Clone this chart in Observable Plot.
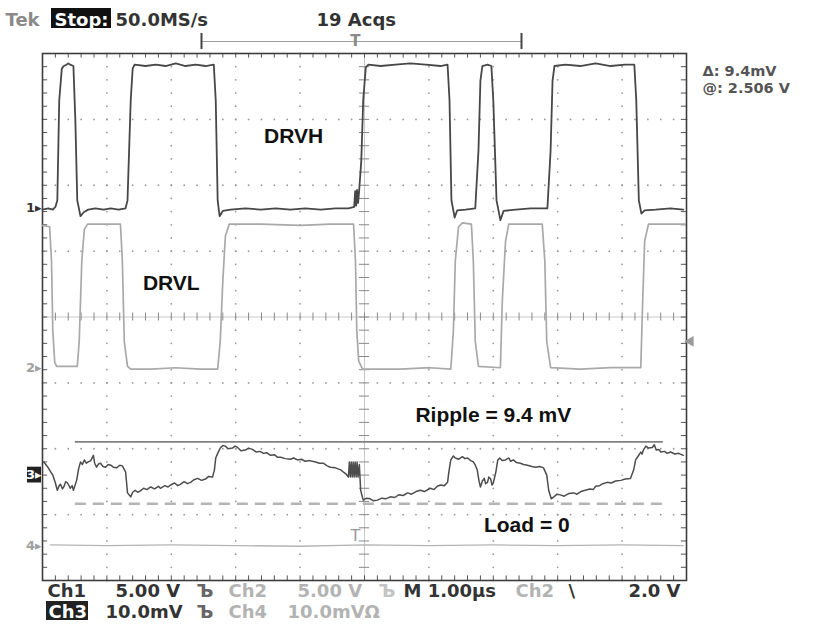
<!DOCTYPE html>
<html><head><meta charset="utf-8">
<script src="https://cdn.jsdelivr.net/npm/d3@7"></script>
<script src="https://cdn.jsdelivr.net/npm/@observablehq/plot@0.6"></script>
<style>
html,body{margin:0;padding:0;background:#fff;}
#chart svg{display:block;}
</style></head>
<body><div id="chart"></div>
<script>
// ---- DATA (time in µs from left edge of screen, value in channel units) ----
const drvh = [[0,-0.1],[0.09,0],[0.16,-0.1],[0.2,0.1],[0.23,0.6],[0.26,8.2],[0.3,10.6],[0.33,10.8],[0.37,10.9],[0.4,11.0],[0.43,10.9],[0.48,10.8],[0.51,6.7],[0.54,0.6],[0.59,-0.6],[0.64,-0.3],[0.71,-0.1],[0.82,0],[0.95,-0.1],[1.06,0],[1.18,-0.1],[1.29,0],[1.32,0.6],[1.37,8.2],[1.4,10.6],[1.43,10.9],[1.6,10.8],[1.76,10.9],[1.91,10.8],[2.07,11.0],[2.22,10.8],[2.38,10.9],[2.53,10.8],[2.66,10.9],[2.69,8.2],[2.72,0.6],[2.75,-0.6],[2.8,-0.2],[2.92,-0.1],[3.15,0],[3.39,-0.1],[3.62,0],[3.85,-0.1],[4.08,0],[4.32,-0.1],[4.55,0],[4.75,0],[4.84,0.1],[4.855,1.3],[4.87,0.2],[4.885,1.4],[4.9,0.4],[4.915,1.2],[4.95,3.6],[4.98,8.2],[5.02,10.7],[5.06,10.9],[5.25,10.8],[5.48,10.9],[5.71,11.0],[5.95,10.9],[6.18,10.8],[6.29,10.9],[6.32,8.2],[6.35,0.6],[6.4,-0.7],[6.44,-0.15],[6.57,-0.1],[6.72,0],[6.77,4.4],[6.8,9.7],[6.83,10.8],[6.91,10.9],[6.97,10.8],[7.0,8.2],[7.05,0.6],[7.11,-0.9],[7.16,-0.2],[7.35,-0.1],[7.58,0],[7.84,0],[7.89,4.4],[7.92,9.7],[7.95,10.8],[8.12,10.9],[8.35,10.8],[8.59,11.0],[8.82,10.8],[9.05,10.9],[9.19,10.9],[9.22,8.2],[9.26,0.6],[9.3,-0.4],[9.35,-0.15],[9.52,-0.1],[9.75,0],[9.95,-0.1]];
const drvl = [[0,10.8],[0.11,10.7],[0.14,8.1],[0.16,2.8],[0.19,0.4],[0.22,0.1],[0.36,0.1],[0.54,0.1],[0.57,2.0],[0.61,8.1],[0.65,10.5],[0.7,10.9],[0.9,10.9],[1.21,10.9],[1.24,8.1],[1.27,2.0],[1.32,0.1],[1.37,-0.1],[1.68,-0.1],[2.07,0],[2.45,-0.1],[2.72,-0.1],[2.76,2.0],[2.8,6.6],[2.84,10.0],[2.9,10.9],[3.39,10.9],[4.01,10.8],[4.47,10.9],[4.83,10.9],[4.86,8.1],[4.88,2.8],[4.91,0.5],[4.97,-0.1],[5.56,-0.1],[6.02,0],[6.34,-0.1],[6.38,2.8],[6.41,8.1],[6.46,10.7],[6.52,11.0],[6.66,10.9],[6.69,8.1],[6.72,2.0],[6.77,0.1],[7.11,0],[7.14,5.1],[7.19,9.6],[7.24,10.9],[7.5,10.9],[7.76,10.9],[7.8,8.1],[7.83,2.0],[7.89,0],[8.35,-0.1],[8.82,0],[9.29,0],[9.32,5.1],[9.35,9.6],[9.41,10.9],[9.98,10.9]];
const ripple = [[0.02,2.0],[0.06,1.5],[0.09,1.1],[0.12,0.6],[0.16,0],[0.2,-1.2],[0.23,-2.3],[0.26,-1.6],[0.28,-1.4],[0.31,-2.1],[0.33,-1.8],[0.36,-1.0],[0.39,-1.2],[0.43,-2.0],[0.46,-1.6],[0.48,-2.3],[0.53,-0.8],[0.56,0.9],[0.59,2.0],[0.62,1.6],[0.65,2.3],[0.68,1.8],[0.71,2.0],[0.75,2.2],[0.79,3.0],[0.81,1.8],[0.84,1.2],[0.87,1.7],[0.9,1.8],[0.94,1.3],[0.98,1.2],[1.02,1.6],[1.06,1.5],[1.1,1.2],[1.15,1.1],[1.2,1.5],[1.24,1.4],[1.29,0.5],[1.32,-2.7],[1.37,-3.3],[1.4,-2.6],[1.44,-2.3],[1.48,-2.6],[1.52,-2.4],[1.57,-2.0],[1.62,-2.2],[1.68,-1.8],[1.74,-2.1],[1.8,-1.7],[1.83,-2.0],[1.9,-1.6],[1.95,-1.8],[1.99,-1.5],[2.05,-1.2],[2.1,-1.6],[2.14,-1.4],[2.2,-1.0],[2.25,-1.3],[2.3,-1.1],[2.35,-0.7],[2.41,-0.5],[2.47,-0.8],[2.53,-0.6],[2.58,-0.2],[2.64,-0.3],[2.67,0.8],[2.69,2.6],[2.72,3.3],[2.76,4.1],[2.8,4.5],[2.84,4.4],[2.88,4.0],[2.95,4.1],[2.99,4.4],[3.03,4.2],[3.08,3.7],[3.15,3.8],[3.2,4.1],[3.26,3.9],[3.32,3.5],[3.38,3.6],[3.43,3.3],[3.48,3.4],[3.54,3.0],[3.6,3.1],[3.65,2.7],[3.7,2.7],[3.77,2.5],[3.85,2.4],[3.9,2.6],[3.96,2.3],[4.02,2.4],[4.08,2.1],[4.15,2.2],[4.24,2.0],[4.3,1.8],[4.36,1.8],[4.42,1.4],[4.47,1.2],[4.55,1.1],[4.63,0.8],[4.68,0.4],[4.72,0.1],[4.75,-0.3],[4.765,2.0],[4.78,-0.3],[4.795,2.0],[4.81,-0.3],[4.825,2.0],[4.84,-0.3],[4.855,2.0],[4.87,-0.3],[4.885,2.0],[4.9,-0.3],[4.92,1.6],[4.94,-2.3],[4.98,-3.8],[5.03,-3.5],[5.09,-3.6],[5.14,-3.9],[5.2,-3.8],[5.27,-3.5],[5.33,-3.6],[5.4,-3.3],[5.47,-3.4],[5.53,-3.0],[5.6,-3.1],[5.67,-2.7],[5.73,-2.9],[5.8,-2.5],[5.87,-2.3],[5.93,-2.5],[6.02,-2.0],[6.08,-2.2],[6.13,-1.7],[6.18,-1.5],[6.24,-1.6],[6.29,-1.1],[6.31,0.5],[6.34,2.3],[6.38,2.9],[6.41,2.6],[6.46,2.4],[6.52,2.8],[6.56,2.5],[6.6,2.6],[6.65,2.2],[6.69,2.0],[6.72,1.5],[6.75,0.8],[6.78,-1.0],[6.8,-1.8],[6.83,-0.9],[6.86,-0.5],[6.88,-1.3],[6.91,-1.1],[6.93,-0.3],[6.96,-0.6],[6.98,-1.5],[7.0,-1.2],[7.04,0.5],[7.07,2.3],[7.1,2.6],[7.14,2.2],[7.19,2.3],[7.24,2.6],[7.27,2.1],[7.31,2.3],[7.36,1.9],[7.42,1.8],[7.47,1.6],[7.53,1.5],[7.6,1.3],[7.66,1.2],[7.72,1.3],[7.78,1.1],[7.83,0],[7.86,-2.3],[7.9,-3.6],[7.94,-3.3],[7.99,-2.9],[8.04,-3.0],[8.1,-3.2],[8.17,-2.8],[8.25,-2.7],[8.3,-2.9],[8.36,-2.5],[8.43,-2.3],[8.5,-2.1],[8.55,-2.2],[8.59,-1.7],[8.65,-1.6],[8.7,-1.3],[8.77,-1.1],[8.83,-1.2],[8.9,-0.9],[8.98,-0.8],[9.05,-0.6],[9.13,-0.5],[9.18,0.8],[9.21,2.3],[9.25,2.9],[9.29,3.5],[9.31,3.2],[9.33,3.8],[9.37,4.4],[9.41,4.1],[9.47,4.2],[9.5,4.6],[9.53,3.8],[9.57,3.9],[9.6,3.5],[9.66,3.6],[9.7,3.3],[9.75,3.5],[9.82,3.2],[9.88,3.3],[9.95,3.0]];
const ch4 = [[0.12,0.1],[1.0,0],[2.0,0.1],[3.0,0],[4.0,-0.1],[5.0,0.1],[6.0,0],[7.0,0.1],[8.0,0],[9.0,0.1],[9.95,0]];
const cursorLevels = [5.05, -4.35];   // mV on Ch3 (Δ = 9.4 mV)
const cursorSpan = [0.51, 9.64];      // µs
const triggerTime = 4.86;             // µs
const triggerLevel = 2.0;             // V on Ch2
const channelNames = ["1", "2", "3", "4"];
const channelScale = [5, 5, 10, 10];          // units per division
const channelOffset = [1.65, -0.77, -2.4, -3.47]; // divisions
const noteText = ["DRVH", "DRVL", "Ripple = 9.4 mV", "Load = 0"];
const noteAt = [[3.9, 5.5, 0], [2.0, 6.4, 1], [7.0, 9.1, 2], [7.52, -7.6, 2]]; // [µs, value, channel]
const headerText = ["Tek", "Stop:", "50.0MS/s", "19 Acqs"];
const readoutText = ["Δ: 9.4mV", "@: 2.506 V"];
const footerRow1 = ["Ch1", "5.00 V", "Ъ", "Ch2", "5.00 V", "Ъ", "M 1.00µs", "Ch2", "\\"];
const footerRight = ["2.0 V"];
const footerRow2 = ["Ch3", "10.0mV", "Ъ", "Ch4", "10.0mVΩ"];

// ---- LAYOUT ----
const W = 817, H = 624, ML = 42, MR = 131, MT = 53, MB = 44;
const X = px => (px - ML) / (W - ML - MR) * 10;
const Y = py => 4 - (py - MT) / (H - MT - MB) * 8;
const rows = (pts, c) => pts.map(([t, v]) => ({t, d: channelOffset[c] + v / channelScale[c]}));

const minorT = d3.range(0, 51).map(i => i / 5);
const minorD = d3.range(0, 41).map(i => -4 + i / 5);
const gridDots = [];
for (const t of [1,2,3,4,6,7,8,9]) for (const d of minorD) gridDots.push({t, d});
for (const d of [-3,-2,-1,1,2,3]) for (const t of minorT) gridDots.push({t, d});

const UI = "DejaVu Sans, sans-serif";
const headerX = [5, 54, 115, 316], headerFill = ["#8a8a8a", "#ffffff", "#333", "#333"];
const row1X = [47, 115, 196, 228, 297, 378, 403, 515, 568];
const row1Fill = ["#333","#333","#666","#b3b3b3","#b3b3b3","#c4c4c4","#333","#b3b3b3","#333"];
const row2X = [48, 105, 196, 228, 287];
const row2Fill = ["#fff","#333","#666","#b3b3b3","#b3b3b3"];

const uiText = (texts, xs, fills, pys, opts = {}) => Plot.text(texts, {
  x: (d, i) => X(xs[i]), y: (d, i) => Y(pys[i] ?? pys[0]), text: d => d, fill: (d, i) => fills[i],
  textAnchor: "start", lineAnchor: "bottom", fontSize: 18, fontWeight: "bold", fontFamily: UI, ...opts
});

const chart = Plot.plot({
  width: W, height: H,
  marginLeft: ML, marginRight: MR, marginTop: MT, marginBottom: MB,
  x: {domain: [0, 10], axis: null},
  y: {domain: [-4, 4], axis: null},
  style: {background: "#fff", overflow: "visible"},
  marks: [
    // graticule
    Plot.dot(gridDots, {x: "t", y: "d", r: 0.9, fill: "#9a9a9a", stroke: null}),
    Plot.ruleY([0], {stroke: "#c8c8c8", strokeWidth: 1}),
    Plot.ruleX([5], {stroke: "#c8c8c8", strokeWidth: 1}),
    Plot.ruleX(minorT, {x: d => d, y1: -0.06, y2: 0.06, stroke: "#888"}),
    Plot.ruleY(minorD, {y: d => d, x1: 4.92, x2: 5.08, stroke: "#888"}),
    Plot.ruleX(minorT, {x: d => d, y1: 4, y2: 3.93, stroke: "#555"}),
    Plot.ruleX(minorT, {x: d => d, y1: -4, y2: -3.93, stroke: "#555"}),
    Plot.ruleY(minorD, {y: d => d, x1: 0, x2: 0.08, stroke: "#555"}),
    Plot.ruleY(minorD, {y: d => d, x1: 10, x2: 9.92, stroke: "#555"}),
    Plot.frame({stroke: "#3c3c3c", strokeWidth: 1.6}),
    // cursors
    Plot.ruleY([cursorLevels[0]], {y: v => channelOffset[2] + v / channelScale[2], x1: cursorSpan[0], x2: cursorSpan[1], stroke: "#808080", strokeWidth: 1.6}),
    Plot.ruleY([cursorLevels[1]], {y: v => channelOffset[2] + v / channelScale[2], x1: cursorSpan[0], x2: cursorSpan[1], stroke: "#b4b4b4", strokeWidth: 2.4, strokeDasharray: "11,7"}),
    // traces
    Plot.line(rows(ch4, 3), {x: "t", y: "d", stroke: "#b4b4b4", strokeWidth: 1.3}),
    Plot.line(rows(drvl, 1), {x: "t", y: "d", stroke: "#a9a9a9", strokeWidth: 1.7}),
    Plot.line(rows(drvh, 0), {x: "t", y: "d", stroke: "#474747", strokeWidth: 1.8}),
    Plot.line(rows(ripple, 2), {x: "t", y: "d", stroke: "#4d4d4d", strokeWidth: 1.5}),
    // trigger markers
    Plot.text(["T"], {x: () => triggerTime, y: () => channelOffset[3] + 0.14, text: d => d, fill: "#9a9a9a", fontSize: 16, fontFamily: UI, lineAnchor: "middle"}),
    Plot.dot([triggerLevel], {x: () => X(690), y: v => channelOffset[1] + v / channelScale[1], symbol: "triangle", rotate: -90, r: 4, fill: "#9a9a9a", stroke: null}),
    // channel markers on the left
    Plot.rect([2], {x1: () => X(27), x2: () => X(41), y1: c => channelOffset[c] - 0.12, y2: c => channelOffset[c] + 0.12, fill: "#222"}),
    Plot.text([0, 1, 2, 3], {x: () => X(41), y: c => channelOffset[c], text: c => channelNames[c] + "▸", textAnchor: "end", lineAnchor: "middle",
      fill: c => c === 2 ? "#fff" : (c === 0 ? "#333" : "#a0a0a0"), fontSize: 13, fontWeight: "bold", fontFamily: UI}),
    // annotations
    Plot.text(noteText, {x: (d, i) => noteAt[i][0], y: (d, i) => channelOffset[noteAt[i][2]] + noteAt[i][1] / channelScale[noteAt[i][2]],
      text: d => d, fontSize: 21, fontWeight: "bold", fontFamily: "Liberation Sans, Arial, sans-serif", fill: "#111",
      stroke: "#fff", strokeWidth: 7, lineAnchor: "middle"}),
    // top record bracket
    Plot.ruleY([0], {y: () => Y(41), x1: () => X(201), x2: () => X(521), stroke: "#a0a0a0", strokeWidth: 1.2}),
    Plot.ruleX([201, 521], {x: d => X(d), y1: () => Y(33), y2: () => Y(49), stroke: "#444", strokeWidth: 2}),
    Plot.text(["T"], {x: () => triggerTime, y: () => Y(41), text: d => d, fill: "#8a8a8a", fontSize: 15, fontWeight: "bold", fontFamily: UI, lineAnchor: "middle"}),
    // header
    Plot.rect([0], {x1: () => X(51), x2: () => X(111), y1: () => Y(8), y2: () => Y(28), fill: "#111"}),
    uiText(headerText, headerX, headerFill, [25]),
    uiText(readoutText, [702, 702], ["#555", "#555"], [75, 92], {fontSize: 14.5}),
    // footer
    Plot.rect([0], {x1: () => X(46), x2: () => X(88), y1: () => Y(601), y2: () => Y(620), fill: "#222"}),
    uiText(footerRow1, row1X, row1Fill, [596]),
    uiText(footerRight, [680], ["#333"], [596], {textAnchor: "end"}),
    uiText(footerRow2, row2X, row2Fill, [617])
  ]
});
document.getElementById("chart").appendChild(chart);
</script>
</body></html>
